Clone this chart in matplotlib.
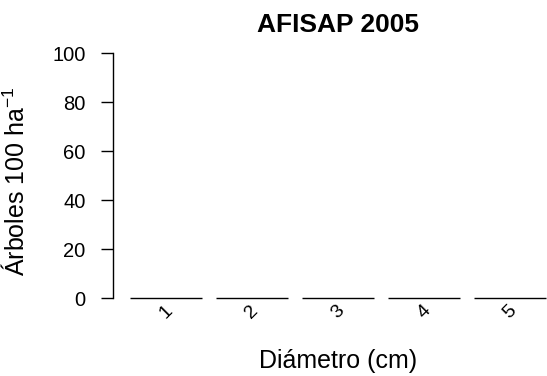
import numpy as np
import matplotlib
matplotlib.use('Agg')
import matplotlib.pyplot as plt

plt.rcParams['font.family'] = ['Liberation Sans', 'DejaVu Sans']
plt.rcParams['mathtext.default'] = 'regular'

# data: all diameter classes empty in this year
categories = ['1', '2', '3', '4', '5']
arboles = [0, 0, 0, 0, 0]
y_ticks = [0, 20, 40, 60, 80, 100]

title = 'AFISAP 2005'
xlabel = 'Diámetro (cm)'
ylabel = r'Árboles 100 ha$^{-1}$'

W, H = 547, 376
fig = plt.figure(figsize=(W / 100, H / 100), dpi=100)

# plot region in pixels (R-like barplot layout)
left_px, right_px = 113.35, 562.8
top_px, bottom_px = 43.5, 308.1
ax = fig.add_axes([left_px / W, 1 - bottom_px / H,
                   (right_px - left_px) / W, (bottom_px - top_px) / H])

# R barplot positions: width 1, space 0.2
width = 1.0
space = 0.2
lefts = space + np.arange(len(categories)) * (width + space)
centers = lefts + width / 2

ax.bar(lefts, arboles, width=width, align='edge',
       color='#bebebe', edgecolor='black', linewidth=1.0)

xmin, xmax = lefts[0], lefts[-1] + width
ext = 0.04 * (xmax - xmin)
ax.set_xlim(xmin - ext, xmax + ext)
ax.set_ylim(-4, 104)

for s in ['top', 'right', 'bottom']:
    ax.spines[s].set_visible(False)
ax.spines['left'].set_bounds(0, 100)
ax.spines['left'].set_linewidth(1.0)

ax.set_yticks(y_ticks)
ax.tick_params(axis='y', length=9, width=1.0, pad=11, labelsize=14.5)

ax.set_xticks(centers)
ax.set_xticklabels(categories, rotation=45, ha='center', va='center')
ax.tick_params(axis='x', length=0, pad=2.5, labelsize=14)

ax.set_title(title, fontsize=19, fontweight='bold', pad=8)

ax.set_xlabel(xlabel, fontsize=18)
ax.xaxis.label.set_va('baseline')
ax.xaxis.set_label_coords(0.5, (bottom_px - 368.3) / (bottom_px - top_px))

ax.set_ylabel(ylabel, fontsize=18)
ax.yaxis.set_label_coords((29 - left_px) / (right_px - left_px), 0.48)

fig.savefig('out.png', dpi=100)
